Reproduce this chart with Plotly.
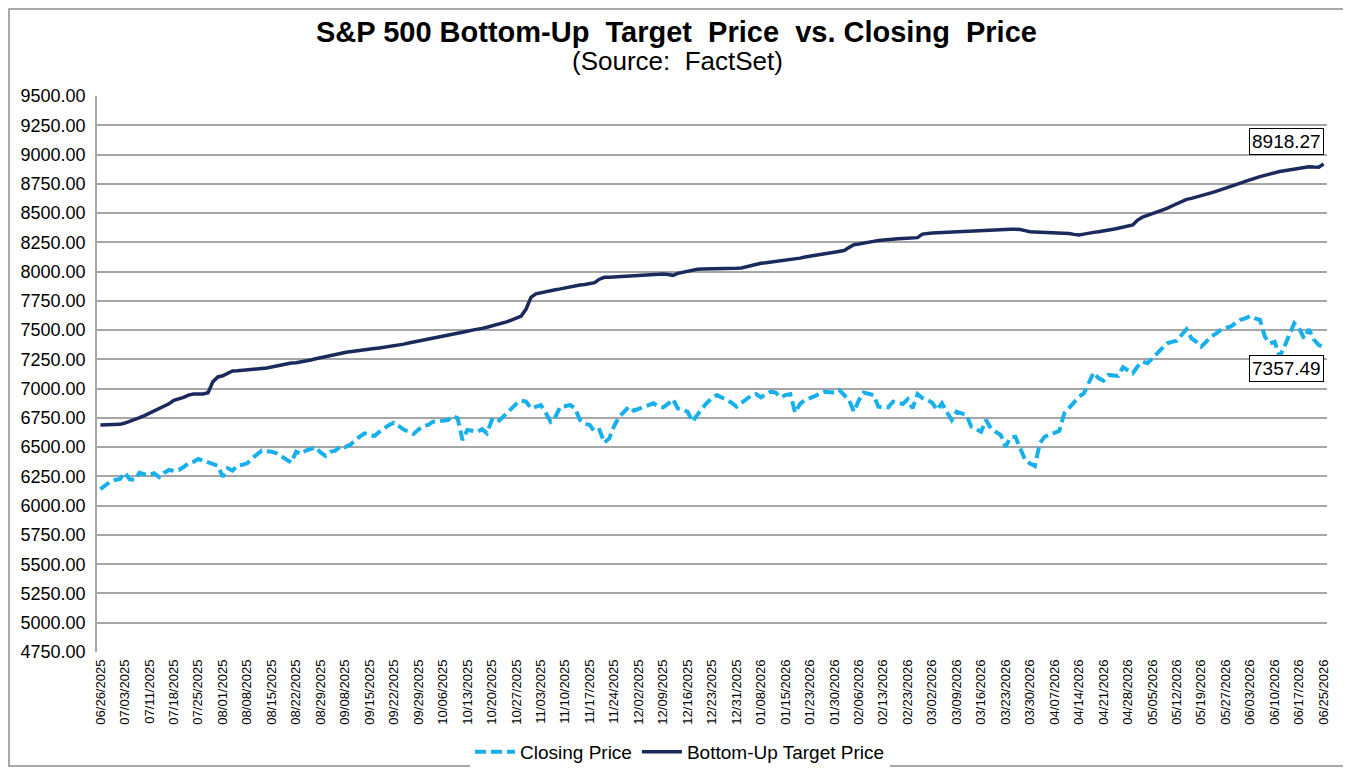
import pandas as pd
import plotly.graph_objects as go

# Trading-day categories (US market holidays excluded)
start_date = "2025-06-26"
end_date = "2026-06-25"
market_holidays = ["2025-07-04", "2025-09-01", "2025-11-27", "2025-12-25",
                   "2026-01-01", "2026-01-19", "2026-02-16", "2026-04-03",
                   "2026-05-25", "2026-06-19"]
dates = [d.strftime("%m/%d/%Y") for d in
         pd.bdate_range(start_date, end_date, freq="C", holidays=market_holidays)]

closing_price = [
    6141, 6173, 6205, 6220, 6229, 6282, 6225, 6220, 6282, 6268,
    6262, 6277, 6243, 6280, 6305, 6297, 6305, 6330, 6362, 6375,
    6399, 6385, 6368, 6350, 6340, 6248, 6320, 6300, 6342, 6350,
    6362, 6405, 6440, 6470, 6465, 6461, 6447, 6419, 6400, 6368,
    6461, 6442, 6470, 6485, 6499, 6455, 6425, 6460, 6470, 6505,
    6500, 6519, 6560, 6590, 6618, 6610, 6595, 6630, 6660, 6690,
    6709, 6680, 6650, 6632, 6613, 6650, 6680, 6690, 6718, 6720,
    6730, 6732, 6766, 6747, 6561, 6647, 6640, 6632, 6653, 6618,
    6732, 6709, 6747, 6790, 6832, 6870, 6897, 6889, 6832, 6850,
    6860, 6795, 6718, 6760, 6846, 6850, 6860, 6832, 6732, 6700,
    6690, 6632, 6647, 6538, 6575, 6680, 6760, 6800, 6846, 6812,
    6830, 6845, 6860, 6875, 6850, 6840, 6870, 6909, 6832, 6820,
    6803, 6718, 6780, 6832, 6880, 6920, 6946, 6925, 6909, 6880,
    6846, 6880, 6909, 6940, 6954, 6926, 6950, 6974, 6966, 6926,
    6945, 6954, 6795, 6870, 6903, 6917, 6935, 6960, 6974, 6970,
    6966, 6989, 6950, 6903, 6803, 6900, 6966, 6954, 6946, 6846,
    6845, 6840, 6889, 6875, 6869, 6909, 6832, 6954, 6920, 6903,
    6880, 6817, 6875, 6800, 6732, 6803, 6790, 6775, 6675, 6650,
    6632, 6732, 6661, 6630, 6604, 6504, 6583, 6590, 6490, 6390,
    6360, 6339, 6533, 6590, 6604, 6618, 6640, 6789, 6832, 6880,
    6930, 6960, 7046, 7137, 7090, 7068, 7117, 7110, 7108, 7183,
    7160, 7131, 7190, 7230, 7217, 7260, 7296, 7340, 7387, 7400,
    7410, 7460, 7507, 7430, 7400, 7359, 7400, 7444, 7470, 7501,
    7520, 7529, 7560, 7587, 7600, 7620, 7600, 7587, 7444, 7387,
    7400, 7273, 7359, 7450, 7558, 7516, 7430, 7507, 7420, 7373,
    7357.49,
]

target_price = [
    6690, 6690, 6690, 6692, 6695, 6706, 6720, 6735, 6752, 6770,
    6790, 6810, 6835, 6850, 6870, 6900, 6910, 6925, 6945, 6954,
    6955, 6955, 6965, 7060, 7100, 7110, 7130, 7151, 7152, 7155,
    7158, 7165, 7170, 7172, 7177, 7185, 7195, 7200, 7210, 7219,
    7222, 7228, 7238, 7245, 7255, 7265, 7275, 7283, 7290, 7298,
    7308, 7316, 7320, 7325, 7330, 7336, 7342, 7348, 7353, 7358,
    7365, 7372, 7380, 7390, 7398, 7405, 7412, 7420, 7428, 7436,
    7444, 7452, 7462, 7470, 7478, 7490, 7500, 7505, 7515, 7525,
    7535, 7545, 7555, 7570, 7585, 7600, 7620, 7680, 7780, 7810,
    7820, 7829, 7838, 7845, 7852, 7862, 7868, 7875, 7886, 7890,
    7895, 7905, 7935, 7951, 7952, 7955, 7958, 7960, 7963, 7967,
    7971, 7973, 7975, 7977, 7978, 7980, 7975, 7968, 7985, 7995,
    8005, 8012, 8020, 8022, 8022, 8023, 8024, 8025, 8026, 8027,
    8028, 8030, 8040, 8055, 8065, 8071, 8075, 8080, 8085, 8090,
    8095, 8099, 8108, 8115, 8125, 8133, 8140, 8148, 8155, 8158,
    8165, 8172, 8180, 8205, 8230, 8235, 8245, 8250, 8258, 8265,
    8270, 8276, 8278, 8280, 8282, 8283, 8284, 8290, 8320, 8327,
    8330, 8332, 8334, 8336, 8338, 8340, 8341, 8345, 8350, 8353,
    8356, 8357, 8358, 8358, 8359, 8360, 8361, 8361, 8360, 8350,
    8340, 8338, 8337, 8336, 8335, 8334, 8333, 8330, 8325, 8318,
    8312, 8320, 8330, 8335, 8340, 8345, 8352, 8361, 8370, 8380,
    8390, 8398, 8440, 8465, 8480, 8495, 8505, 8520, 8540, 8560,
    8580, 8600, 8617, 8625, 8635, 8646, 8660, 8672, 8685, 8698,
    8710, 8725, 8740, 8755, 8770, 8785, 8798, 8811, 8822, 8835,
    8845, 8855, 8862, 8868, 8875, 8885, 8893, 8896, 8893, 8891,
    8918.27,
]

assert len(dates) == len(closing_price) == len(target_price)

tick_labels = dates[::5]

# The page body adds an 8px offset; size the figure so it ends at the window edge.
OFF = 8
W, H = 1351 - OFF, 771 - OFF
L, T = 97 - OFF, 96 - OFF
R, B = 24, 119
pw, ph = W - L - R, H - T - B


def px_x(page_px):
    return (page_px - OFF - L) / pw


def px_y(page_py):
    return (H - B - (page_py - OFF)) / ph


fig = go.Figure()
fig.add_trace(go.Scatter(
    x=dates, y=closing_price, mode="lines", name="Closing Price",
    line=dict(color="#17B0EC", width=4, dash="11px,5px"),
))
fig.add_trace(go.Scatter(
    x=dates, y=target_price, mode="lines", name="Bottom-Up Target Price",
    line=dict(color="#1B2A5C", width=3.5),
))

fig.add_annotation(x=dates[-1], y=target_price[-1], xref="x", yref="y",
                   text="%.2f" % target_price[-1], showarrow=False,
                   xshift=-37, yshift=23, bordercolor="#000000", borderwidth=1,
                   borderpad=2, bgcolor="#FFFFFF",
                   font=dict(family="Arial", size=19, color="#000000"))
fig.add_annotation(x=dates[-1], y=closing_price[-1], xref="x", yref="y",
                   text="%.2f" % closing_price[-1], showarrow=False,
                   xshift=-37, yshift=-22, bordercolor="#000000", borderwidth=1,
                   borderpad=2, bgcolor="#FFFFFF",
                   font=dict(family="Arial", size=19, color="#000000"))

fig.add_annotation(x=px_x(676), y=px_y(32), xref="paper", yref="paper",
                   text="<b>S&amp;P 500 Bottom-Up  Target  Price  vs. Closing  Price</b>",
                   showarrow=False, xanchor="center", yanchor="middle",
                   font=dict(family="Arial", size=29, color="#000000"))
fig.add_annotation(x=px_x(677), y=px_y(61), xref="paper", yref="paper",
                   text="(Source:  FactSet)", showarrow=False,
                   xanchor="center", yanchor="middle",
                   font=dict(family="Arial", size=26, color="#000000"))

fig.add_shape(type="rect", xref="paper", yref="paper",
              x0=px_x(OFF + 1), x1=px_x(1345), y0=px_y(766), y1=px_y(OFF + 1),
              line=dict(color="#8C8C8C", width=1.5), fillcolor="rgba(0,0,0,0)",
              layer="below")

fig.update_layout(
    width=W, height=H,
    margin=dict(l=L, r=R, t=T, b=B, pad=0, autoexpand=False),
    paper_bgcolor="#FFFFFF", plot_bgcolor="#FFFFFF",
    font=dict(family="Arial", color="#000000"),
    showlegend=True,
    legend=dict(orientation="h", x=px_x(680), y=px_y(752),
                xanchor="center", yanchor="middle",
                font=dict(family="Arial", size=19, color="#000000"),
                itemwidth=40, tracegroupgap=0),
    xaxis=dict(type="category", tickmode="array", tickvals=tick_labels,
               ticktext=tick_labels, tickangle=-90, automargin=False,
               tickfont=dict(family="Arial", size=13, color="#000000"),
               showgrid=False, showline=False, zeroline=False, ticks="",
               range=[-0.7, len(dates) - 0.3], ticklabelstandoff=4),
    yaxis=dict(range=[4750, 9500], dtick=250, tick0=4750, tickformat=".2f",
               automargin=False,
               tickfont=dict(family="Arial", size=18, color="#000000"),
               showgrid=True, gridcolor="#A6A6A6", gridwidth=1.5,
               showline=True, linecolor="#A6A6A6", linewidth=1.5,
               zeroline=False, ticks="", ticklabelstandoff=6),
)

fig.write_html("out.html")
